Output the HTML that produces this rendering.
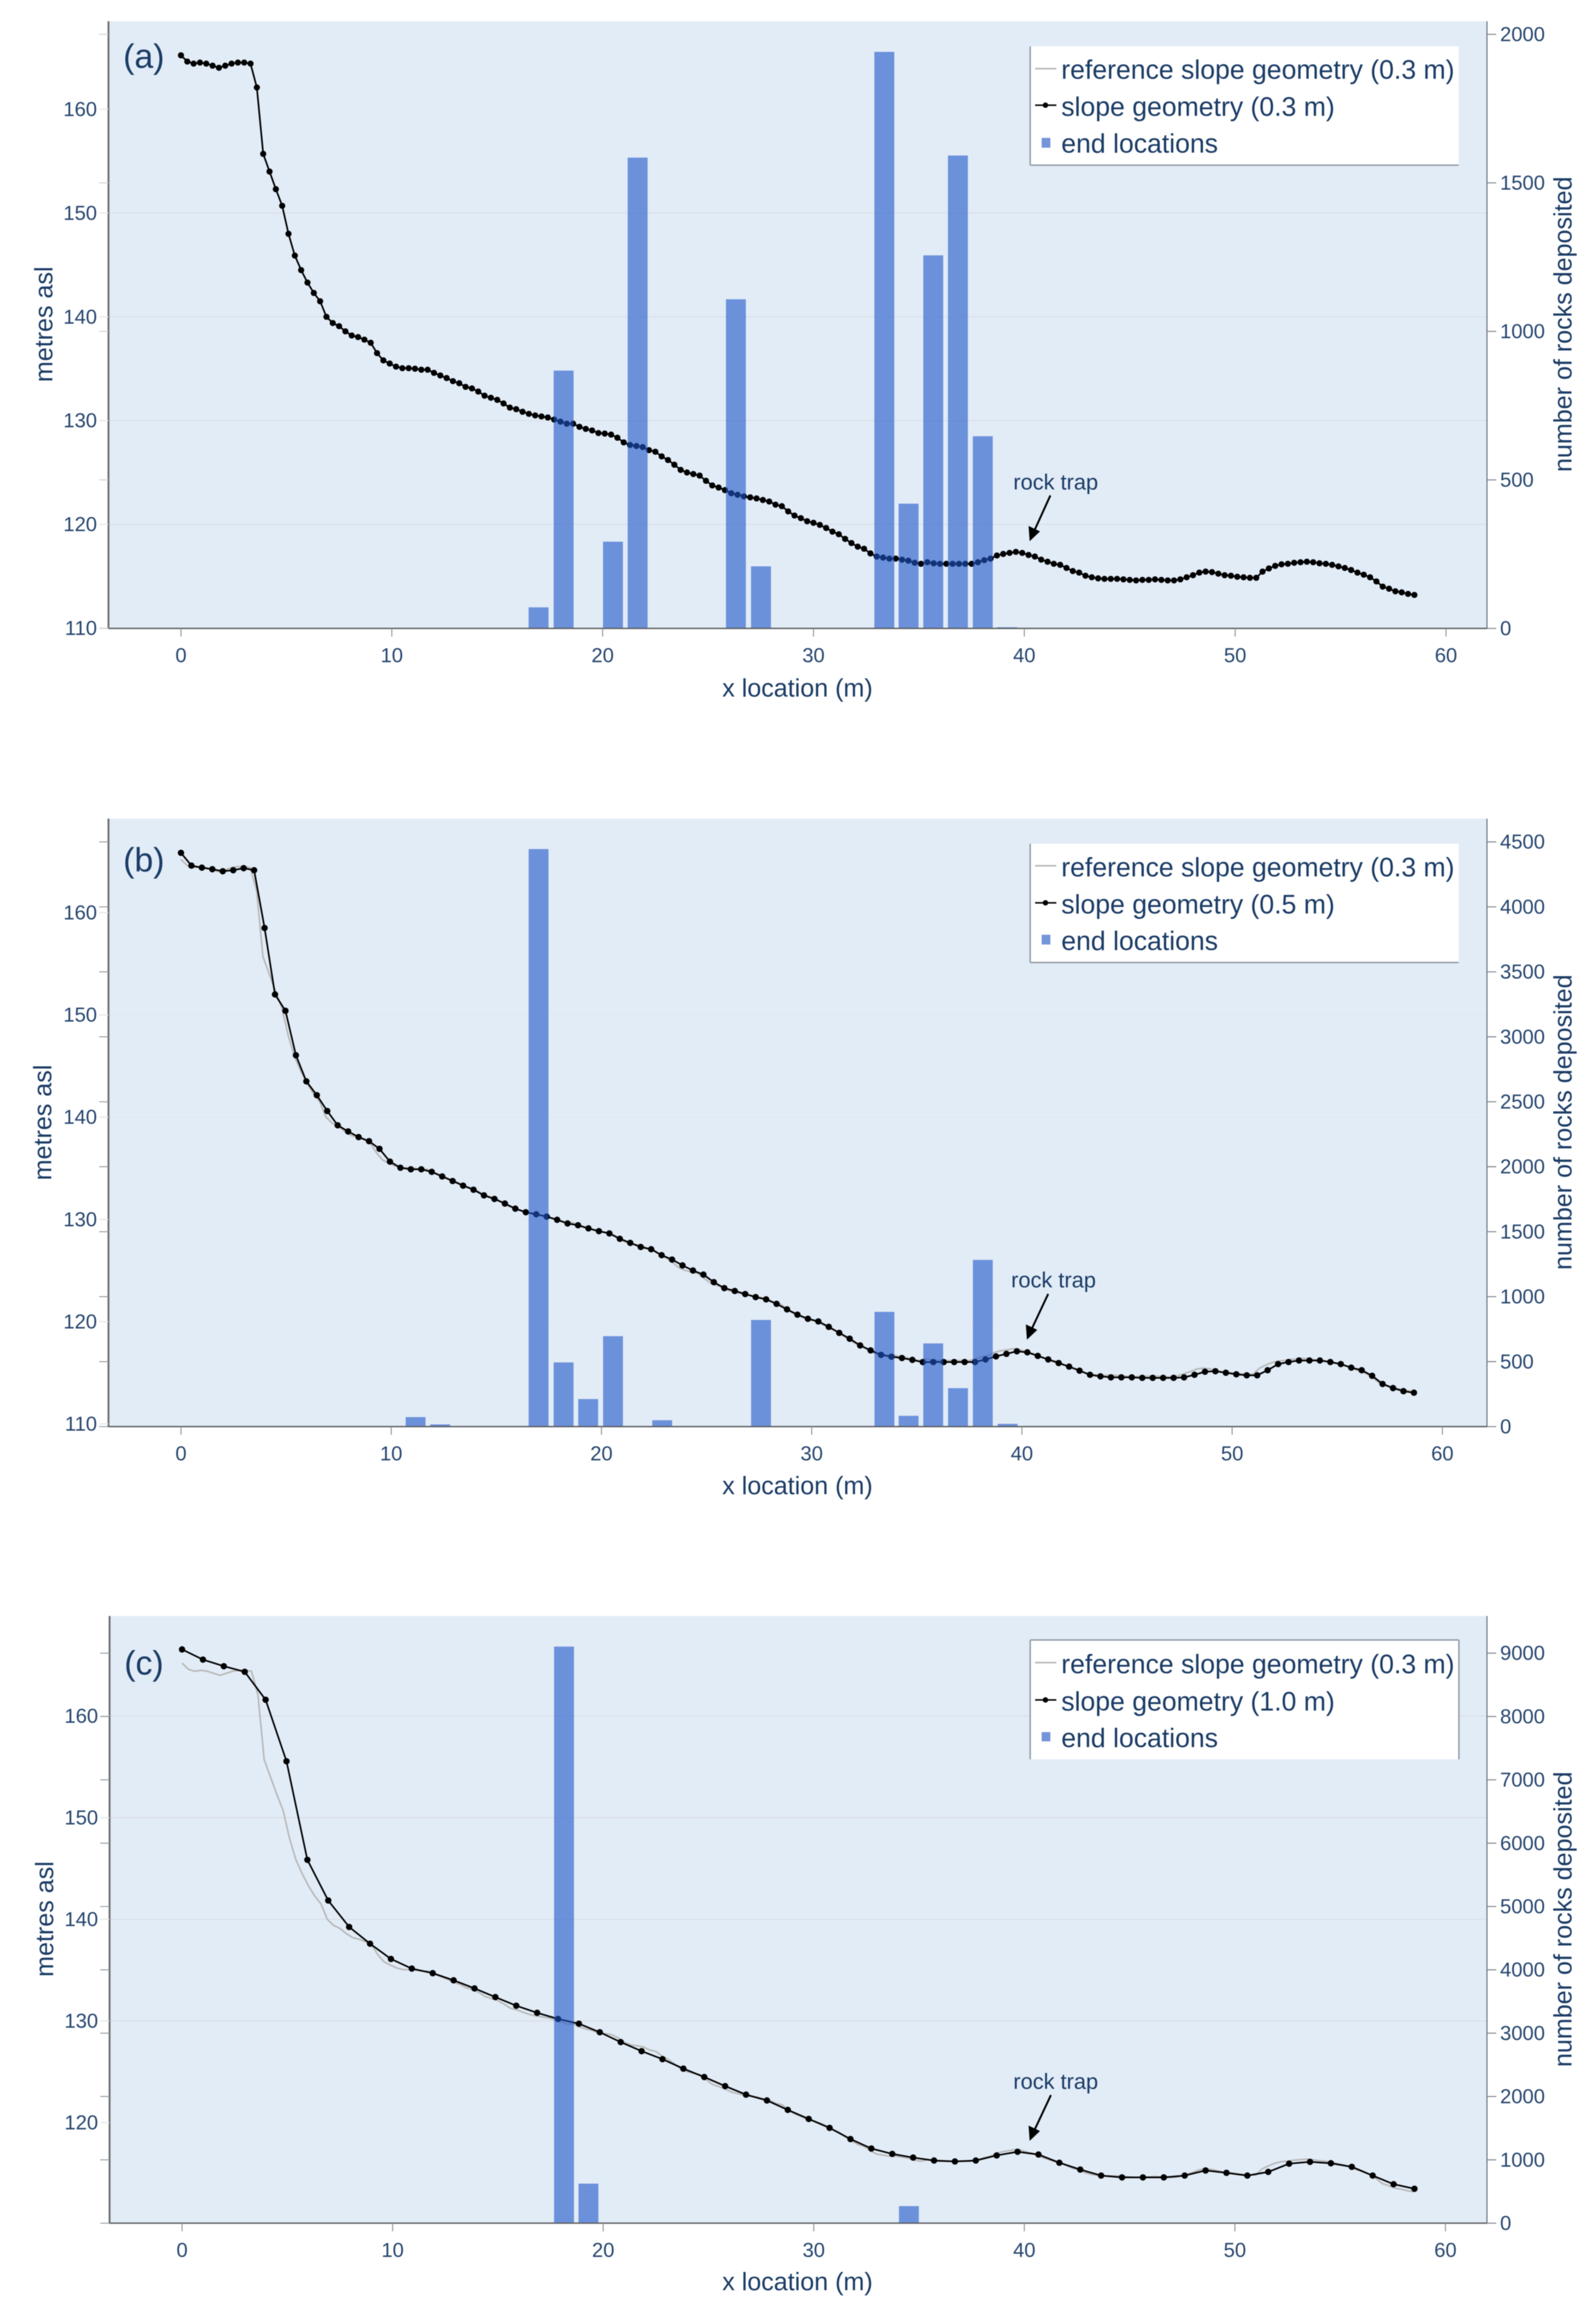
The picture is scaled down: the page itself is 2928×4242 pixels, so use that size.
<!DOCTYPE html>
<html lang="en">
<head>
<meta charset="utf-8">
<title>Rockfall end locations on three slope geometries</title>
<style>
  html, body { margin: 0; padding: 0; background: #ffffff; }
  svg { display: block; filter: blur(0.9px); }
  text { font-family: "Liberation Sans", sans-serif; fill: #1b3c66; }
  .tick { font-size: 37px; fill: #27466f; }
  .title { font-size: 46px; }
  .legend-text { font-size: 48.8px; }
  .panel-label { font-size: 62px; }
  .note { font-size: 40px; }
</style>
</head>
<body>
<svg id="chart" xmlns="http://www.w3.org/2000/svg" width="2928" height="4242" viewBox="0 0 2928 4242">
  <rect width="2928" height="4242" fill="#ffffff"/>

  <!-- Panel (a) -->
  <g id="panel-a">
    <rect x="199" y="39" width="2529" height="1114" fill="#e2ecf7"/>
    <g id="marks-a"></g>
    <g id="axes-a"></g>
    <text class="panel-label" x="226" y="104" dominant-baseline="central">(a)</text>
    <text class="title" transform="translate(80 595) rotate(-90)" text-anchor="middle" dominant-baseline="central">metres asl</text>
    <text class="title" transform="translate(2867 595) rotate(-90)" text-anchor="middle" dominant-baseline="central">number of rocks deposited</text>
    <text class="title" x="1463" y="1262" text-anchor="middle" dominant-baseline="central">x location (m)</text>
    <text class="note" x="1859" y="885" dominant-baseline="central">rock trap</text>
    <g>
      <line x1="1927" y1="909" x2="1897" y2="975" stroke="#000" stroke-width="3.5"/>
      <polygon points="1889,993 1887,965 1908,975" fill="#000"/>
    </g>
    <g>
      <rect x="1890" y="85" width="786" height="218" fill="#ffffff"/>
      <line x1="1890" y1="85" x2="1890" y2="303" stroke="#8d97a3" stroke-width="2.5"/>
      <line x1="1890" y1="303" x2="2676" y2="303" stroke="#8d97a3" stroke-width="2.5"/>
      <line x1="1899" y1="126" x2="1938" y2="126" stroke="#b9b9b9" stroke-width="3"/>
      <text class="legend-text" x="1947" y="128.5" dominant-baseline="central">reference slope geometry (0.3 m)</text>
      <line x1="1899" y1="193" x2="1938" y2="193" stroke="#000" stroke-width="2.8"/>
      <circle cx="1918" cy="193" r="5" fill="#000"/>
      <text class="legend-text" x="1947" y="196.5" dominant-baseline="central">slope geometry (0.3 m)</text>
      <rect x="1911" y="253" width="16" height="18" fill="#7595da"/>
      <text class="legend-text" x="1947" y="264" dominant-baseline="central">end locations</text>
    </g>
  </g>

  <!-- Panel (b) -->
  <g id="panel-b">
    <rect x="199" y="1502" width="2529" height="1115.5" fill="#e2ecf7"/>
    <g id="marks-b"></g>
    <g id="axes-b"></g>
    <text class="panel-label" x="226" y="1578.5" dominant-baseline="central">(b)</text>
    <text class="title" transform="translate(78 2059.5) rotate(-90)" text-anchor="middle" dominant-baseline="central">metres asl</text>
    <text class="title" transform="translate(2867 2059) rotate(-90)" text-anchor="middle" dominant-baseline="central">number of rocks deposited</text>
    <text class="title" x="1463" y="2725.5" text-anchor="middle" dominant-baseline="central">x location (m)</text>
    <text class="note" x="1855" y="2349" dominant-baseline="central">rock trap</text>
    <g>
      <line x1="1923" y1="2374" x2="1892" y2="2440" stroke="#000" stroke-width="3.5"/>
      <polygon points="1884,2458 1882,2430 1903,2440" fill="#000"/>
    </g>
    <g>
      <rect x="1890" y="1548" width="786" height="218" fill="#ffffff"/>
      <line x1="1890" y1="1548" x2="1890" y2="1766" stroke="#8d97a3" stroke-width="2.5"/>
      <line x1="1890" y1="1766" x2="2676" y2="1766" stroke="#8d97a3" stroke-width="2.5"/>
      <line x1="1899" y1="1588.5" x2="1938" y2="1588.5" stroke="#b9b9b9" stroke-width="3"/>
      <text class="legend-text" x="1947" y="1592" dominant-baseline="central">reference slope geometry (0.3 m)</text>
      <line x1="1899" y1="1656.5" x2="1938" y2="1656.5" stroke="#000" stroke-width="2.8"/>
      <circle cx="1918" cy="1656.5" r="5" fill="#000"/>
      <text class="legend-text" x="1947" y="1660" dominant-baseline="central">slope geometry (0.5 m)</text>
      <rect x="1911" y="1715" width="16" height="18" fill="#7595da"/>
      <text class="legend-text" x="1947" y="1727" dominant-baseline="central">end locations</text>
    </g>
  </g>

  <!-- Panel (c) -->
  <g id="panel-c">
    <rect x="201" y="2965" width="2527" height="1114" fill="#e2ecf7"/>
    <g id="marks-c"></g>
    <g id="axes-c"></g>
    <text class="panel-label" x="228" y="3052" dominant-baseline="central">(c)</text>
    <text class="title" transform="translate(81.5 3521) rotate(-90)" text-anchor="middle" dominant-baseline="central">metres asl</text>
    <text class="title" transform="translate(2867 3521.5) rotate(-90)" text-anchor="middle" dominant-baseline="central">number of rocks deposited</text>
    <text class="title" x="1463" y="4186" text-anchor="middle" dominant-baseline="central">x location (m)</text>
    <text class="note" x="1859" y="3819.5" dominant-baseline="central">rock trap</text>
    <g>
      <line x1="1928" y1="3844" x2="1897" y2="3910" stroke="#000" stroke-width="3.5"/>
      <polygon points="1889,3928 1887,3900 1908,3910" fill="#000"/>
    </g>
    <g>
      <rect x="1890" y="3009" width="786" height="219" fill="#ffffff"/>
      <line x1="1890" y1="3009" x2="2676.5" y2="3009" stroke="#8d97a3" stroke-width="2.5"/>
      <line x1="1890" y1="3009" x2="1890" y2="3228" stroke="#8d97a3" stroke-width="2.5"/>
      <line x1="2676.5" y1="3009" x2="2676.5" y2="3228" stroke="#8d97a3" stroke-width="2.5"/>
      <line x1="1899" y1="3050.5" x2="1938" y2="3050.5" stroke="#b9b9b9" stroke-width="3"/>
      <text class="legend-text" x="1947" y="3054" dominant-baseline="central">reference slope geometry (0.3 m)</text>
      <line x1="1899" y1="3119" x2="1938" y2="3119" stroke="#000" stroke-width="2.8"/>
      <circle cx="1918" cy="3119" r="5" fill="#000"/>
      <text class="legend-text" x="1947" y="3122.5" dominant-baseline="central">slope geometry (1.0 m)</text>
      <rect x="1911" y="3178" width="16" height="17" fill="#7595da"/>
      <text class="legend-text" x="1947" y="3189.5" dominant-baseline="central">end locations</text>
    </g>
  </g>
</svg>

<script>
// ---- Chart data ----
const xTickLabels = [0, 10, 20, 30, 40, 50, 60];
const leftTicksA = [110, 120, 130, 140, 150, 160];
const leftTicksB = [110, 120, 130, 140, 150, 160];
const leftTicksC = [120, 130, 140, 150, 160];
const rightTicksA = [0, 500, 1000, 1500, 2000];
const rightTicksB = [0, 500, 1000, 1500, 2000, 2500, 3000, 3500, 4000, 4500];
const rightTicksC = [0, 1000, 2000, 3000, 4000, 5000, 6000, 7000, 8000, 9000];

// Elevation of the 0.3 m reference profile, one value per 0.3 m of x.
const referenceElevation = [
  165.2, 164.6, 164.4, 164.5, 164.4, 164.2, 164.0, 164.2, 164.4, 164.5,
  164.5, 164.4, 162.1, 155.7, 154.0, 152.3, 150.7, 148.0, 145.9, 144.5,
  143.3, 142.3, 141.5, 140.0, 139.4, 139.1, 138.6, 138.2, 138.05, 137.8,
  137.5, 136.5, 135.8, 135.5, 135.2, 135.05, 135.05, 135.0, 134.9, 134.9,
  134.6, 134.35, 134.1, 133.8, 133.6, 133.25, 133.1, 132.8, 132.4, 132.2,
  132.0, 131.65, 131.25, 131.1, 130.85, 130.65, 130.5, 130.4, 130.3, 130.1,
  129.9, 129.7, 129.7, 129.4, 129.2, 129.05, 128.8, 128.75, 128.65, 128.35,
  127.9, 127.65, 127.55, 127.45, 127.15, 127.0, 126.55, 126.2, 125.75, 125.25,
  125.0, 124.85, 124.7, 124.2, 123.75, 123.55, 123.3, 123.0, 122.85, 122.7,
  122.6, 122.5, 122.35, 122.2, 121.9, 121.75, 121.25, 120.85, 120.6, 120.3,
  120.15, 119.95, 119.65, 119.3, 119.05, 118.6, 118.2, 117.85, 117.65, 117.2,
  116.9, 116.8, 116.7, 116.7, 116.6, 116.5, 116.3, 116.2, 116.35, 116.25,
  116.2, 116.2, 116.2, 116.2, 116.2, 116.2, 116.35, 116.55, 116.7, 117.0,
  117.15, 117.25, 117.35, 117.25, 117.05, 116.9, 116.6, 116.4, 116.2, 116.1,
  115.8, 115.5, 115.35, 115.05, 114.9, 114.8, 114.75, 114.75, 114.75, 114.7,
  114.65, 114.6, 114.65, 114.65, 114.7, 114.65, 114.6, 114.6, 114.7, 114.9,
  115.1, 115.35, 115.45, 115.4, 115.25, 115.1, 115.05, 114.95, 114.9, 114.85,
  114.85, 115.45, 115.75, 116.0, 116.15, 116.2, 116.3, 116.35, 116.4, 116.35,
  116.25, 116.2, 116.1, 115.95, 115.8, 115.6, 115.35, 115.15, 114.9, 114.5,
  114.0, 113.8, 113.55, 113.45, 113.3, 113.2
];
const referenceStep = 0.3;

// Panel (b): resampled slope, one value per 0.497 m of x.
const slopeElevationB = [
  165.85, 164.6, 164.4, 164.25, 164.05, 164.15, 164.35, 164.15, 158.5, 152.0,
  150.4, 146.05, 143.5, 142.15, 140.6, 139.2, 138.6, 138.05, 137.65, 136.9,
  135.65, 135.05, 134.9, 134.9, 134.65, 134.2, 133.75, 133.3, 132.9, 132.35,
  132.0, 131.55, 131.05, 130.7, 130.5, 130.27, 129.96, 129.6, 129.43, 129.12,
  128.85, 128.63, 128.1, 127.7, 127.3, 127.08, 126.5, 126.07, 125.5, 125.0,
  124.6, 123.86, 123.28, 123.0, 122.7, 122.4, 122.18, 121.74, 121.2, 120.68,
  120.28, 120.02, 119.49, 118.9, 118.33, 117.67, 117.19, 116.75, 116.57, 116.44,
  116.26, 116.04, 116.05, 116.05, 116.05, 116.05, 116.05, 116.3, 116.6, 116.85,
  117.1, 117.0, 116.65, 116.3, 115.95, 115.6, 115.2, 114.8, 114.65, 114.55,
  114.55, 114.55, 114.5, 114.5, 114.5, 114.5, 114.55, 114.8, 115.1, 115.15,
  115.0, 114.85, 114.75, 114.75, 115.25, 115.85, 116.05, 116.2, 116.2, 116.2,
  116.05, 115.85, 115.5, 115.25, 114.7, 113.9, 113.5, 113.2, 113.05
];
const slopeStepB = 0.497;

// Panel (c): resampled slope, one value per 0.992 m of x.
const slopeElevationC = [
  166.55, 165.55, 164.9, 164.35, 161.6, 155.55, 145.85, 141.85, 139.25, 137.6,
  136.1, 135.15, 134.7, 134.0, 133.2, 132.35, 131.5, 130.8, 130.2, 129.73,
  128.89, 127.92, 127.03, 126.24, 125.31, 124.48, 123.59, 122.75, 122.18, 121.25,
  120.36, 119.48, 118.38, 117.45, 116.92, 116.56, 116.27, 116.18, 116.27, 116.77,
  117.13, 116.86, 116.05, 115.38, 114.79, 114.61, 114.61, 114.61, 114.79, 115.29,
  115.06, 114.79, 115.15, 115.96, 116.14, 116.0, 115.65, 114.79, 113.94, 113.49
];
const slopeStepC = 0.992;

// End-location histograms: bin centre (m) and rocks deposited.
const binWidthMetres = 0.945;
const barLocationsA = [16.96, 18.15, 20.49, 21.66, 26.32, 27.51, 33.36, 34.51, 35.68, 36.85, 38.03, 39.19];
const barCountsA = [71, 868, 292, 1585, 1108, 209, 1941, 420, 1256, 1592, 647, 4];
const barLocationsB = [11.16, 12.33, 17.01, 18.2, 19.37, 20.55, 22.89, 27.59, 33.46, 34.61, 35.78, 36.96, 38.14, 39.32];
const barCountsB = [73, 17, 4445, 494, 212, 696, 49, 821, 883, 83, 640, 296, 1283, 21];
const barLocationsC = [18.14, 19.3, 34.52];
const barCountsC = [9104, 624, 269];

// ---- Drawing ----
const SVG_NS = 'http://www.w3.org/2000/svg';

function make(tag, attrs, parent) {
  const node = document.createElementNS(SVG_NS, tag);
  for (const key in attrs) node.setAttribute(key, attrs[key]);
  parent.appendChild(node);
  return node;
}

function drawPanel(cfg) {
  const marks = document.getElementById('marks-' + cfg.id);
  const axes = document.getElementById('axes-' + cfg.id);
  const xScale = function (m) { return cfg.x0 + cfg.sx * m; };
  const yLeft = function (v) { return cfg.y110 - (v - 110) * cfg.sy; };
  const yRight = function (n) { return cfg.bottom - n * cfg.rs; };

  // Horizontal gridlines from the left axis
  cfg.gridValues.forEach(function (v) {
    const grid = make('line', { x1: cfg.left, x2: cfg.right, y1: yLeft(v), y2: yLeft(v), stroke: '#d9dde2', 'stroke-width': 2, opacity: cfg.gridOpacity }, marks);
    
    
  });

  // Reference profile
  const refPoints = cfg.reference.map(function (v, i) {
    return xScale(i * referenceStep).toFixed(1) + ',' + yLeft(v).toFixed(1);
  }).join(' ');
  const refLine = make('polyline', { points: refPoints, fill: 'none', stroke: '#b9b9b9', 'stroke-width': 3 }, marks);
  
  

  // Slope profile
  const slopePoints = cfg.slope.map(function (v, i) {
    return xScale(i * cfg.step).toFixed(1) + ',' + yLeft(v).toFixed(1);
  }).join(' ');
  const slopeLine = make('polyline', { points: slopePoints, fill: 'none', stroke: '#000000', 'stroke-width': 3 }, marks);
  
  
  cfg.slope.forEach(function (v, i) {
    const dot = make('circle', { cx: xScale(i * cfg.step), cy: yLeft(v), r: cfg.dot, fill: '#000000' }, marks);
    
    
  });

  // Bars sit over the lines and tint them, as in the figure
  cfg.barX.forEach(function (m, i) {
    const top = yRight(cfg.barN[i]);
    const bar = make('rect', {
      x: xScale(m - binWidthMetres / 2),
      y: top,
      width: binWidthMetres * cfg.sx,
      height: cfg.bottom - top,
      fill: '#1e55c8',
      'fill-opacity': 0.6
    }, marks);
    
    
  });

  // Axis lines
  const leftAxis = make('line', { x1: cfg.left, x2: cfg.left, y1: cfg.top, y2: cfg.bottom + 1, stroke: '#6c6c6c', 'stroke-width': 3.4 }, axes);
  
  
  const rightAxis = make('line', { x1: cfg.right, x2: cfg.right, y1: cfg.top, y2: cfg.bottom + 1, stroke: '#6c7278', 'stroke-width': 2 }, axes);
  
  
  const bottomAxis = make('line', { x1: cfg.left, x2: cfg.right, y1: cfg.bottom, y2: cfg.bottom, stroke: '#5c5f63', 'stroke-width': 2.6 }, axes);
  
  

  // X ticks
  xTickLabels.forEach(function (t) {
    const tick = make('line', { x1: xScale(t), x2: xScale(t), y1: cfg.bottom, y2: cfg.bottom + 15, stroke: '#8a9097', 'stroke-width': 1.8 }, axes);
    
    
    const label = make('text', { class: 'tick', x: xScale(t), y: cfg.bottom + 49.5, 'text-anchor': 'middle', 'dominant-baseline': 'central' }, axes);
    label.textContent = t;
    
    
  });

  // Left ticks and labels
  cfg.leftTicks.forEach(function (v) {
    const tick = make('line', { x1: cfg.left - 17, x2: cfg.left, y1: yLeft(v), y2: yLeft(v), stroke: '#dfe3e7', 'stroke-width': 1.8 }, axes);
    
    
    const label = make('text', { class: 'tick', x: cfg.left - 21, y: yLeft(v), 'text-anchor': 'end', 'dominant-baseline': 'central' }, axes);
    label.textContent = v;
    
    
  });

  // Right ticks and labels, with the mirrored stubs the figure shows on the left axis
  cfg.rightTicks.forEach(function (n) {
    const tick = make('line', { x1: cfg.right, x2: cfg.right + 17, y1: yRight(n), y2: yRight(n), stroke: '#7b8188', 'stroke-width': 1.8 }, axes);
    
    
    const stub = make('line', { x1: cfg.left - 17, x2: cfg.left, y1: yRight(n), y2: yRight(n), stroke: cfg.stub, 'stroke-width': 1.6 }, axes);
    
    
    const label = make('text', { class: 'tick', x: cfg.right + 24, y: yRight(n), 'dominant-baseline': 'central' }, axes);
    label.textContent = n;
    
    
  });
}

drawPanel({
  id: 'a', left: 199, right: 2728, top: 39, bottom: 1153,
  x0: 332, sx: 38.68, y110: 1152.5, sy: 19.04, rs: 0.545,
  reference: referenceElevation, slope: referenceElevation, step: referenceStep, dot: 5.6,
  barX: barLocationsA, barN: barCountsA,
  leftTicks: leftTicksA, rightTicks: rightTicksA, stub: '#c4c9cf',
  gridValues: [120, 130, 140, 150], gridOpacity: 0.8
});
drawPanel({
  id: 'b', left: 199, right: 2728, top: 1502, bottom: 2617.5,
  x0: 332, sx: 38.57, y110: 2612.5, sy: 18.76, rs: 0.2384,
  reference: referenceElevation, slope: slopeElevationB, step: slopeStepB, dot: 5.8,
  barX: barLocationsB, barN: barCountsB,
  leftTicks: leftTicksB, rightTicks: rightTicksB, stub: '#8d9298',
  gridValues: [120, 130, 140, 150], gridOpacity: 0.2
});
drawPanel({
  id: 'c', left: 201, right: 2728, top: 2965, bottom: 4079,
  x0: 334, sx: 38.63, y110: 4081, sy: 18.65, rs: 0.1162,
  reference: referenceElevation, slope: slopeElevationC, step: slopeStepC, dot: 5.8,
  barX: barLocationsC, barN: barCountsC,
  leftTicks: leftTicksC, rightTicks: rightTicksC, stub: '#8d9298',
  gridValues: [130, 140, 150, 160], gridOpacity: 0.8
});
</script>
</body>
</html>
